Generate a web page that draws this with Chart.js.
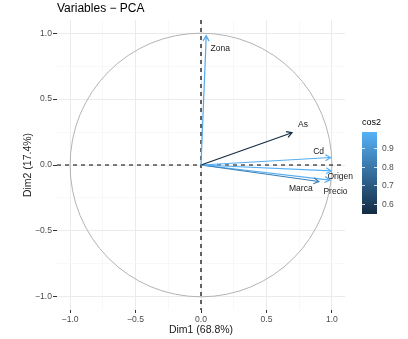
<!DOCTYPE html>
<html>
<head>
<meta charset="utf-8">
<script src="https://cdn.jsdelivr.net/npm/chart.js@4.4.1/dist/chart.umd.min.js"></script>
<style>
  html, body { margin: 0; padding: 0; background: #fff; }
  canvas { display: block; }
</style>
</head>
<body>
<canvas id="pcaChart" width="408" height="339"></canvas>
<script>
// Variable coordinates on the first two dimensions
const variables = ['Zona', 'As', 'Cd', 'Origen', 'Marca', 'Precio'];
const dim1 = [0.04, 0.695, 0.99, 0.995, 0.90, 0.985];
const dim2 = [0.98, 0.245, 0.057, -0.045, -0.125, -0.115];
const cos2 = [0.955, 0.546, 0.975, 0.985, 0.82, 0.97];

const majorTicks = [-1, -0.5, 0, 0.5, 1];
const minorTicks = [-0.75, -0.25, 0.25, 0.75];
const legendTicks = [0.6, 0.7, 0.8, 0.9];

// label nudges (px) relative to arrow tip
const labelOffsets = [[14, 13], [11, -8], [-12, -5.5], [9, 6], [-18, 7], [5.5, 11.5]];

const FONT = "'Liberation Sans', Arial, sans-serif";
const LOW = [19, 43, 67];     // #132B43
const HIGH = [86, 177, 247];  // #56B1F7
const cosMin = Math.min(...cos2);
const cosMax = Math.max(...cos2);

function gradColor(t) {
  const c = LOW.map((l, i) => Math.round(l + (HIGH[i] - l) * t));
  return `rgb(${c[0]},${c[1]},${c[2]})`;
}
function cosColor(v) {
  return gradColor((v - cosMin) / (cosMax - cosMin));
}
function fmt(v) {
  if (!majorTicks.includes(v)) return '';
  return (v < 0 ? '\u2212' : '') + Math.abs(v).toFixed(1);
}
const allTicks = [...majorTicks, ...minorTicks].sort((a, b) => a - b);

const pcaDecor = {
  id: 'pcaDecor',
  beforeDatasetsDraw(chart) {
    const { ctx, chartArea: a, scales: { x, y } } = chart;
    const x0 = x.getPixelForValue(0), y0 = y.getPixelForValue(0);
    ctx.save();
    // correlation circle
    ctx.strokeStyle = '#b3b3b3';
    ctx.lineWidth = 1;
    ctx.beginPath();
    ctx.ellipse(x0, y0, x.getPixelForValue(1) - x0, y0 - y.getPixelForValue(1), 0, 0, Math.PI * 2);
    ctx.stroke();
    // dashed zero lines
    ctx.strokeStyle = '#000';
    ctx.lineWidth = 1.2;
    ctx.setLineDash([4, 4]);
    ctx.beginPath();
    ctx.moveTo(a.left, y0); ctx.lineTo(a.right, y0);
    ctx.moveTo(x0, a.top); ctx.lineTo(x0, a.bottom);
    ctx.stroke();
    ctx.restore();
  },
  afterDatasetsDraw(chart) {
    const { ctx, scales: { x, y } } = chart;
    const x0 = x.getPixelForValue(0), y0 = y.getPixelForValue(0);
    ctx.save();
    variables.forEach((name, i) => {
      const px = x.getPixelForValue(dim1[i]);
      const py = y.getPixelForValue(dim2[i]);
      const ang = Math.atan2(py - y0, px - x0);
      const len = 6, spread = Math.PI / 6;
      ctx.strokeStyle = cosColor(cos2[i]);
      ctx.lineWidth = 1.2;
      ctx.beginPath();
      ctx.moveTo(px - len * Math.cos(ang - spread), py - len * Math.sin(ang - spread));
      ctx.lineTo(px, py);
      ctx.lineTo(px - len * Math.cos(ang + spread), py - len * Math.sin(ang + spread));
      ctx.stroke();

      ctx.fillStyle = '#1a1a1a';
      ctx.font = `8.5px ${FONT}`;
      ctx.textAlign = 'center';
      ctx.textBaseline = 'middle';
      ctx.fillText(name, px + labelOffsets[i][0], py + labelOffsets[i][1]);
    });
    ctx.restore();
  },
  afterDraw(chart) {
    // colour bar legend
    const { ctx } = chart;
    const bx = 362, by = 132, bw = 15, bh = 82;
    ctx.save();
    const g = ctx.createLinearGradient(0, by + bh, 0, by);
    for (let k = 0; k <= 10; k++) g.addColorStop(k / 10, gradColor(k / 10));
    ctx.fillStyle = g;
    ctx.fillRect(bx, by, bw, bh);

    ctx.fillStyle = '#000';
    ctx.font = `9px ${FONT}`;
    ctx.textAlign = 'left';
    ctx.textBaseline = 'middle';
    ctx.fillText('cos2', bx, by - 9);

    ctx.font = `8.5px ${FONT}`;
    ctx.fillStyle = '#4d4d4d';
    ctx.strokeStyle = 'rgba(255,255,255,0.8)';
    ctx.lineWidth = 1;
    legendTicks.forEach(v => {
      const ty = Math.round(by + bh - (v - cosMin) / (cosMax - cosMin) * bh) + 0.5;
      ctx.beginPath();
      ctx.moveTo(bx, ty); ctx.lineTo(bx + 3, ty);
      ctx.moveTo(bx + bw - 3, ty); ctx.lineTo(bx + bw, ty);
      ctx.stroke();
      ctx.fillText(v.toFixed(1), bx + bw + 5, ty);
    });
    ctx.restore();
  }
};

const gridCfg = (tickLen) => ({
  color: c => majorTicks.includes(c.tick.value) ? '#ebebeb' : '#f5f5f5',
  lineWidth: c => majorTicks.includes(c.tick.value) ? 1 : 0.7,
  tickColor: c => majorTicks.includes(c.tick.value) ? '#333333' : 'rgba(0,0,0,0)',
  tickLength: tickLen,
  drawTicks: true
});

const ctx = document.getElementById('pcaChart').getContext('2d');
new Chart(ctx, {
  type: 'scatter',
  data: {
    datasets: variables.map((name, i) => ({
      label: name,
      data: [{ x: 0, y: 0 }, { x: dim1[i], y: dim2[i] }],
      showLine: true,
      borderColor: cosColor(cos2[i]),
      borderWidth: 1.2,
      pointRadius: 0,
      fill: false
    }))
  },
  options: {
    responsive: false,
    animation: false,
    layout: { padding: { left: 0, right: 63, top: 0, bottom: 0 } },
    plugins: {
      legend: { display: false },
      tooltip: { enabled: false },
      title: {
        display: true,
        text: 'Variables \u2212 PCA',
        align: 'start',
        fullSize: false,
        color: '#000',
        font: { family: FONT, size: 12, weight: 'normal' },
        padding: { top: 1, bottom: 4.6 }
      }
    },
    scales: {
      x: {
        type: 'linear',
        min: -1.1,
        max: 1.1,
        afterBuildTicks: s => { s.ticks = allTicks.map(v => ({ value: v })); },
        afterFit: s => { s.height = 29; },
        ticks: { callback: fmt, autoSkip: false, maxRotation: 0, color: '#4d4d4d', font: { family: FONT, size: 8.6 }, padding: 1 },
        grid: gridCfg(3),
        border: { display: false },
        title: { display: true, text: 'Dim1 (68.8%)', color: '#1a1a1a', font: { family: FONT, size: 10.5 }, padding: { top: 0, bottom: 3 } }
      },
      y: {
        type: 'linear',
        min: -1.1,
        max: 1.1,
        afterBuildTicks: s => { s.ticks = allTicks.map(v => ({ value: v })); },
        afterFit: s => { s.width = 57; },
        ticks: { callback: fmt, autoSkip: false, color: '#4d4d4d', font: { family: FONT, size: 8.6 }, padding: 1 },
        grid: gridCfg(4),
        border: { display: false },
        title: { display: true, text: 'Dim2 (17.4%)', color: '#1a1a1a', font: { family: FONT, size: 10.5 }, padding: { top: 22, bottom: 0 } }
      }
    }
  },
  plugins: [pcaDecor]
});
</script>
</body>
</html>
